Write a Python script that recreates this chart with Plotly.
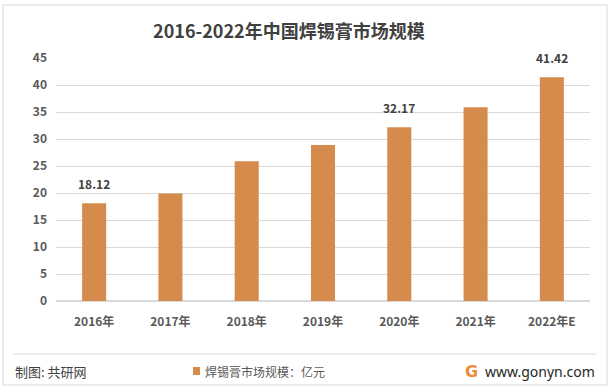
import plotly.graph_objects as go

categories = ["2016年", "2017年", "2018年", "2019年", "2020年", "2021年", "2022年E"]
values = [18.12, 19.9, 25.9, 28.9, 32.17, 35.9, 41.42]
label_text = ["18.12", "", "", "", "32.17", "", "41.42"]
y_ticks = [0, 5, 10, 15, 20, 25, 30, 35, 40, 45]

W, H = 612, 391
L, R, T, B = 56, 590, 58, 301

def px(x):
    return (x - L) / (R - L)

def py(y):
    return (B - y) / (B - T)

FONT = "Noto Sans CJK SC, Microsoft YaHei, sans-serif"
BAR = "#D48B4C"

fig = go.Figure()
fig.add_trace(go.Bar(
    x=categories, y=values, marker_color=BAR, marker_line_width=0,
    showlegend=False, hoverinfo="x+y",
))

fig.update_layout(
    width=W, height=H,
    margin=dict(l=L, r=W - R, t=T, b=H - B),
    paper_bgcolor="white", plot_bgcolor="white",
    bargap=0.685,
    font=dict(family=FONT, color="#595959"),
    xaxis=dict(showgrid=False, showline=False, ticks="", tickfont=dict(size=12, color="#595959", weight="bold"),
               ticklabelstandoff=12),
    yaxis=dict(range=[0, 45], tickvals=y_ticks, showgrid=True, gridcolor="#D9D9D9", gridwidth=1,
               zeroline=True, zerolinecolor="#D9D9D9", showline=False, ticks="",
               tickfont=dict(size=12, color="#595959", weight="bold"), ticklabelstandoff=8),
    title=dict(text="<b>2016-2022年中国焊锡膏市场规模</b>", x=0.472, xanchor="center",
               y=1 - 32 / H, yanchor="middle", font=dict(size=18, color="#404040", family=FONT)),
)

shapes = [
    dict(type="rect", xref="paper", yref="paper", x0=px(3), x1=px(607), y0=py(385), y1=py(5),
         line=dict(color="#D9D9D9", width=1), fillcolor="rgba(0,0,0,0)", layer="below"),
    dict(type="line", xref="paper", yref="paper", x0=px(13), x1=px(596), y0=py(354), y1=py(354),
         line=dict(color="#D9D9D9", width=1)),
    dict(type="rect", xref="paper", yref="paper", x0=px(193), x1=px(200), y0=py(375), y1=py(367),
         line=dict(width=0), fillcolor=BAR),
]
fig.update_layout(shapes=shapes)

annotations = []
for c, v, t in zip(categories, values, label_text):
    if t:
        annotations.append(dict(text=t, x=c, y=v, xref="x", yref="y", yanchor="bottom", yshift=9,
                                showarrow=False, font=dict(size=12, color="#404040", family=FONT, weight="bold")))
annotations += [
    dict(text="制图: 共研网", x=px(13), y=py(371), xref="paper", yref="paper", xanchor="left",
         yanchor="middle", showarrow=False, font=dict(size=13, color="#404040", family=FONT)),
    dict(text="焊锡膏市场规模：亿元", x=px(203), y=py(371), xref="paper", yref="paper", xanchor="left",
         yanchor="middle", showarrow=False, font=dict(size=12, color="#595959", family=FONT)),
    dict(text="<b>G</b>", x=px(471), y=py(371), xref="paper", yref="paper", xanchor="center",
         yanchor="middle", showarrow=False, font=dict(size=16, color="#F28A3C", family="DejaVu Sans")),
    dict(text="www.gonyn.com", x=px(597), y=py(371), xref="paper", yref="paper", xanchor="right",
         yanchor="middle", showarrow=False, font=dict(size=14, color="#262626", family="Noto Sans, sans-serif")),
]
fig.update_layout(annotations=annotations)

fig.write_html("out.html", config={"displayModeBar": False},
               post_script="document.body.style.margin='0';")
